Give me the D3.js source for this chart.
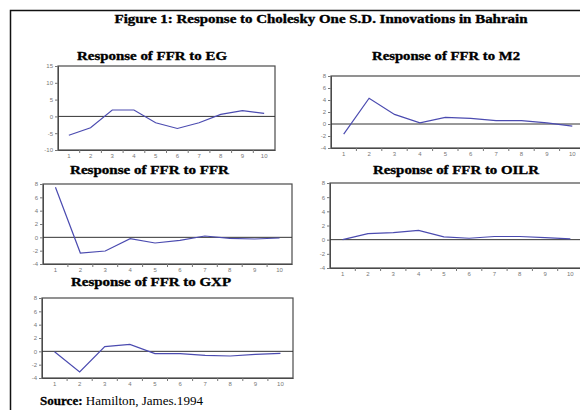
<!DOCTYPE html>
<html>
<head>
<meta charset="utf-8">
<script src="https://cdn.jsdelivr.net/npm/d3@7"></script>
<style>
  html, body { margin: 0; padding: 0; background: #fff; }
  svg { display: block; }
</style>
</head>
<body>
<svg id="fig" width="580" height="410"></svg>
<script>
// Impulse-response horizons
const periods = [1, 2, 3, 4, 5, 6, 7, 8, 9, 10];

// Response of FFR to each shock
const respEG   = [-5.6, -3.4, 1.9, 1.9, -1.9, -3.6, -1.9, 0.6, 1.7, 0.9];
const respM2   = [-1.7, 4.3, 1.6, 0.2, 1.1, 0.95, 0.55, 0.55, 0.2, -0.35];
const respFFR  = [7.5, -2.35, -2.05, -0.2, -0.85, -0.45, 0.2, -0.15, -0.25, -0.1];
const respOILR = [0.0, 0.85, 1.0, 1.3, 0.4, 0.2, 0.45, 0.45, 0.3, 0.1];
const respGXP  = [-0.05, -3.1, 0.7, 1.05, -0.35, -0.35, -0.6, -0.7, -0.45, -0.3];

// Y-axis tick labels
const ticksEG = [-10, -5, 0, 5, 10, 15];
const ticksSmall = [-4, -2, 0, 2, 4, 6, 8];

const panelTitles = [
  "Response of FFR to EG",
  "Response of FFR to M2",
  "Response of FFR to FFR",
  "Response of FFR to OILR",
  "Response of FFR to GXP"
];
const figureTitle = "Figure 1: Response to Cholesky One S.D. Innovations in Bahrain";
const sourceLabel = "Source:";
const sourceText = " Hamilton, James.1994";

const svg = d3.select("#fig");
const serif = "'Liberation Serif', 'Times New Roman', serif";
const sans = "'Liberation Sans', Arial, sans-serif";

// Outer frame of the figure
svg.append("path")
  .attr("d", "M10.5,420 L10.5,10.5 L590,10.5")
  .attr("fill", "none").attr("stroke", "#111").attr("stroke-width", 1.5);

svg.append("text")
  .attr("x", 321).attr("y", 22.5)
  .attr("text-anchor", "middle")
  .attr("font-family", serif).attr("font-weight", "bold").attr("font-size", 12)
  .attr("stroke", "#000").attr("stroke-width", 0.35)
  .attr("textLength", 413).attr("lengthAdjust", "spacingAndGlyphs")
  .text(figureTitle);

const panels = [
  { title: panelTitles[0], values: respEG,   ticks: ticksEG,    domain: [-10, 15],
    box: { l: 58, t: 66, r: 275, b: 150 }, tx: 152, ty: 60, tw: 150 },
  { title: panelTitles[1], values: respM2,   ticks: ticksSmall, domain: [-4, 8],
    box: { l: 331, t: 76, r: 585, b: 148 }, tx: 446, ty: 60, tw: 148 },
  { title: panelTitles[2], values: respFFR,  ticks: ticksSmall, domain: [-4, 8],
    box: { l: 43, t: 184, r: 292, b: 264 }, tx: 149.5, ty: 173.5, tw: 159 },
  { title: panelTitles[3], values: respOILR, ticks: ticksSmall, domain: [-4, 8],
    box: { l: 330, t: 183, r: 583, b: 268 }, tx: 456, ty: 173.5, tw: 166 },
  { title: panelTitles[4], values: respGXP,  ticks: ticksSmall, domain: [-4, 8],
    box: { l: 42, t: 298, r: 293, b: 378 }, tx: 151, ty: 285.5, tw: 160 }
];

panels.forEach(p => {
  const { l, t, r, b } = p.box;
  const g = svg.append("g");

  const x = d3.scaleBand().domain(periods).range([l, r]);
  const y = d3.scaleLinear().domain(p.domain).range([b, t]);

  // Panel title
  g.append("text")
    .attr("x", p.tx).attr("y", p.ty)
    .attr("text-anchor", "middle")
    .attr("font-family", serif).attr("font-weight", "bold").attr("font-size", 12.5)
    .attr("stroke", "#000").attr("stroke-width", 0.35)
    .attr("textLength", p.tw).attr("lengthAdjust", "spacingAndGlyphs")
    .text(p.title);

  // Plot frame
  g.append("rect")
    .attr("x", l).attr("y", t).attr("width", r - l).attr("height", b - t)
    .attr("fill", "none").attr("stroke", "#4a4a4a").attr("stroke-width", 1.2);

  // Left axis
  const yAxis = d3.axisLeft(y).tickValues(p.ticks).tickSize(3).tickPadding(2)
    .tickFormat(d => String(d));
  const ya = g.append("g").attr("transform", `translate(${l},0)`).call(yAxis);
  ya.select(".domain").attr("stroke", "#4a4a4a");
  ya.selectAll(".tick line").attr("stroke", "#777");
  ya.selectAll(".tick text")
    .attr("font-family", sans).attr("font-size", 6).attr("fill", "#777");

  // Bottom axis: labels at period centres, ticks on period boundaries
  const xAxis = d3.axisBottom(x).tickSize(0).tickPadding(4)
    .tickFormat(d => String(d));
  const xa = g.append("g").attr("transform", `translate(0,${b})`).call(xAxis);
  xa.select(".domain").attr("stroke", "#4a4a4a");
  xa.selectAll(".tick text")
    .attr("font-family", sans).attr("font-size", 6).attr("fill", "#777");
  g.append("g").selectAll("line")
    .data(periods.slice(1))
    .join("line")
    .attr("x1", d => x(d)).attr("x2", d => x(d))
    .attr("y1", b).attr("y2", b + 3)
    .attr("stroke", "#777").attr("stroke-width", 1);

  // Zero reference line
  g.append("line")
    .attr("x1", l).attr("x2", r).attr("y1", y(0)).attr("y2", y(0))
    .attr("stroke", "#333").attr("stroke-width", 1);

  // Response path
  const line = d3.line()
    .x((d, i) => x(periods[i]) + x.bandwidth() / 2)
    .y(d => y(d));
  g.append("path")
    .datum(p.values)
    .attr("d", line)
    .attr("fill", "none").attr("stroke", "#4b4bb0").attr("stroke-width", 1.2);
});

// Source note
const src = svg.append("text")
  .attr("x", 40).attr("y", 405)
  .attr("font-family", serif).attr("font-size", 13)
  .attr("textLength", 163).attr("lengthAdjust", "spacingAndGlyphs");
src.append("tspan").attr("font-weight", "bold")
  .attr("stroke", "#000").attr("stroke-width", 0.3).text(sourceLabel);
src.append("tspan").text(sourceText);
</script>
</body>
</html>
